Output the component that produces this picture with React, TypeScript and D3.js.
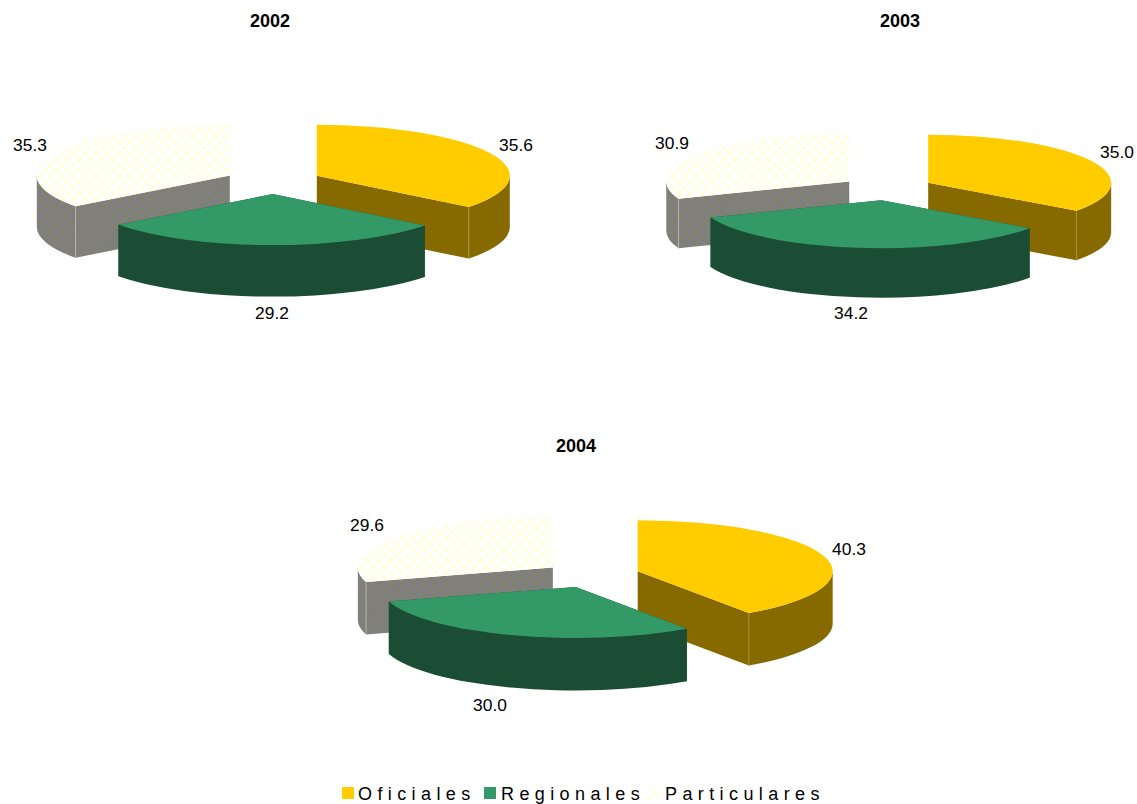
import React from "react";
import * as d3 from "d3";

const categories = ["Oficiales", "Regionales", "Particulares"];
const years = ["2002", "2003", "2004"];
const values2002 = [35.6, 29.2, 35.3];
const values2003 = [35.0, 34.2, 30.9];
const values2004 = [40.3, 30.0, 29.6];
const seriesByYear = [values2002, values2003, values2004];

const topColors = ["#ffcc00", "#339966", "url(#hatchTop)"];
const sideColors = ["#866a00", "#1b4d34", "url(#hatchSide)"];
const seamColors = ["#a8923f", "#1b4d34", "#b4b4ae"];

// layout of each pie: centre, radii, wall height, how far the slices are pulled out
const layouts = [
  { cx: 273.2, cy: 181.3, rx: 193, ry: 51, depth: 51.5, explode: 48.5, titleX: 270, titleY: 27 },
  { cx: 887.2, cy: 188.2, rx: 183, ry: 48, depth: 49.5, explode: 46, titleX: 900, titleY: 27 },
  { cx: 591.6, cy: 575, rx: 195, ry: 51, depth: 52.5, explode: 48.3, titleX: 576, titleY: 452 },
];
const labelPositions = [
  [[516, 151], [272, 319], [30, 151]],
  [[1117, 158], [851, 319], [672, 149]],
  [[849, 555], [490, 711], [367, 531]],
];
const legendItems = [
  { box: 342, text: 358 },
  { box: 484, text: 501 },
  { box: 648, text: 665 },
];

const pie = d3.pie<number>().sort(null).value((d) => d);

function Slice3D({ layout, slice, index }) {
  const { cx, cy, rx, ry, depth, explode } = layout;
  const ky = ry / rx;
  const mid = (slice.startAngle + slice.endAngle) / 2;
  const ox = cx + explode * Math.sin(mid);
  const oy = cy - explode * ky * Math.cos(mid);
  const px = (a: number) => ox + rx * Math.sin(a);
  const py = (a: number) => oy - ry * Math.cos(a);

  // written out as an ellipse arc so the hatch pattern isn't squashed with it
  const large = slice.endAngle - slice.startAngle > Math.PI ? 1 : 0;
  const top =
    `M${ox},${oy}L${px(slice.startAngle)},${py(slice.startAngle)}` +
    `A${rx},${ry} 0 ${large} 1 ${px(slice.endAngle)},${py(slice.endAngle)}Z`;

  // cut faces, going down from the rim to the apex
  const face = (a: number) =>
    `M${ox},${oy}L${px(a)},${py(a)}L${px(a)},${py(a) + depth}L${ox},${oy + depth}Z`;

  // outer wall only shows on the front half of the ellipse
  const a0 = Math.max(slice.startAngle, Math.PI / 2);
  const a1 = Math.min(slice.endAngle, (3 * Math.PI) / 2);
  const wall =
    a1 > a0
      ? `M${px(a0)},${py(a0)}A${rx},${ry} 0 0 1 ${px(a1)},${py(a1)}` +
        `L${px(a1)},${py(a1) + depth}A${rx},${ry} 0 0 0 ${px(a0)},${py(a0) + depth}Z`
      : null;

  const seamAngle = index === 0 ? slice.endAngle : slice.startAngle;

  return (
    <g>
      <path d={face(slice.startAngle)} fill={sideColors[index]} />
      <path d={face(slice.endAngle)} fill={sideColors[index]} />
      {wall && <path d={wall} fill={sideColors[index]} />}
      {index !== 1 && (
        <line
          x1={px(seamAngle)}
          y1={py(seamAngle)}
          x2={px(seamAngle)}
          y2={py(seamAngle) + depth}
          stroke={seamColors[index]}
          strokeWidth={1}
        />
      )}
      <path d={top} fill={topColors[index]} />
    </g>
  );
}

function Pie3D({ values, layout, year, labels }) {
  const slices = pie(values);
  // back slices first so the green one ends up in front
  const order = [2, 0, 1];
  return (
    <g>
      <text
        x={layout.titleX}
        y={layout.titleY}
        textAnchor="middle"
        fontWeight="bold"
        fontSize={18}
      >
        {year}
      </text>
      {order.map((i) => (
        <Slice3D key={i} layout={layout} slice={slices[i]} index={i} />
      ))}
      {values.map((v, i) => (
        <text key={i} x={labels[i][0]} y={labels[i][1]} textAnchor="middle" fontSize={17.4}>
          {v.toFixed(1)}
        </text>
      ))}
    </g>
  );
}

export default function App() {
  return (
    <svg
      width={1137}
      height={804}
      style={{ position: "absolute", left: 0, top: 0 }}
      fontFamily="'Liberation Sans', Arial, sans-serif"
    >
      <defs>
        <pattern
          id="hatchTop"
          width={8}
          height={8}
          patternUnits="userSpaceOnUse"
          patternTransform="rotate(45)"
        >
          <rect width={8} height={8} fill="#ffffff" />
          <path d="M0,0H8M0,0V8" stroke="#ffffd2" strokeWidth={2.4} />
        </pattern>
        <pattern
          id="hatchSide"
          width={8}
          height={8}
          patternUnits="userSpaceOnUse"
          patternTransform="rotate(45)"
        >
          <rect width={8} height={8} fill="#808080" />
          <path d="M0,0H8M0,0V8" stroke="#80806a" strokeWidth={2.4} />
        </pattern>
      </defs>
      <rect width={1137} height={804} fill="#ffffff" />
      {seriesByYear.map((values, i) => (
        <Pie3D
          key={years[i]}
          values={values}
          layout={layouts[i]}
          year={years[i]}
          labels={labelPositions[i]}
        />
      ))}
      {categories.map((c, i) => (
        <g key={c}>
          <rect x={legendItems[i].box} y={787} width={12} height={12} fill={topColors[i]} />
          <text x={legendItems[i].text} y={800} fontSize={18} letterSpacing={5.4}>
            {c}
          </text>
        </g>
      ))}
    </svg>
  );
}
